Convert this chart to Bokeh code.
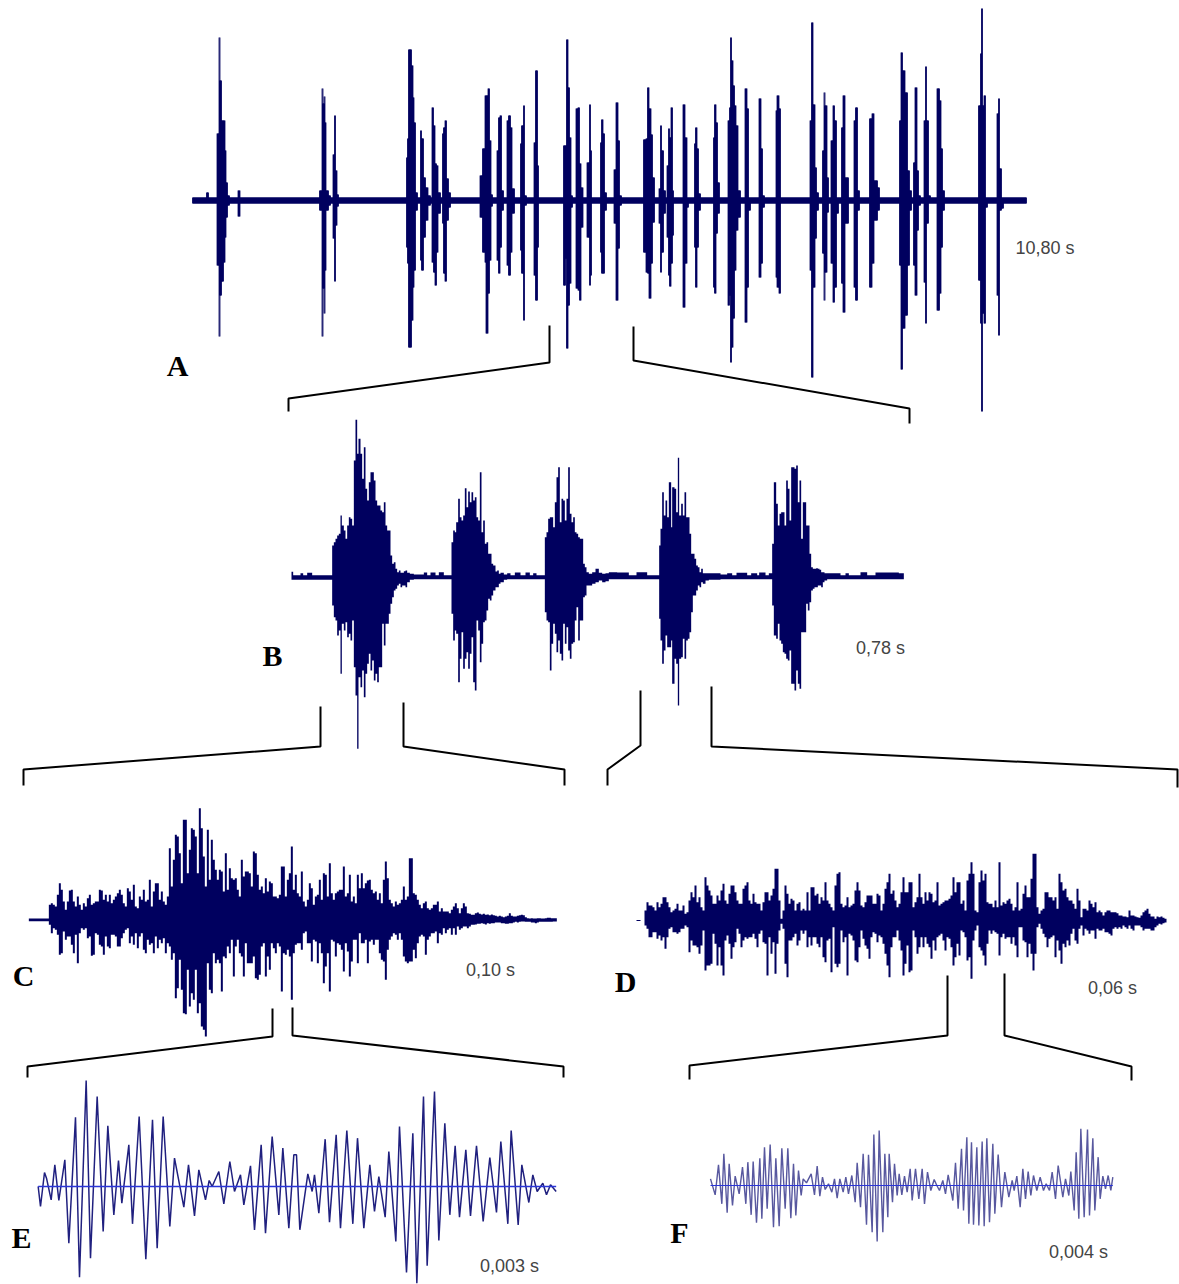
from bokeh.plotting import figure
from bokeh.models import Range1d
from bokeh.embed import file_html
from bokeh.resources import INLINE

# ---------- Panel A (10,80 s): amplitude envelope, columns start at A_x ----------
A_x = [0,14,16,
 24.5,26.5,27.5,29,31,32.5,33.5,35,37, 45.5,47.5,
 127,129.5,130.5,131.5,132.5,133.5,136,138, 140.5,142,143,144.5,146,
 214,215,216,219,220.5,221.5,223,225, 228,229,231,233,235.5,238,
 239.5,241,242.5,244,245.5,248, 250,251,252.5,254,256,258,
 287.5,290,292.5,293.5,295.5,297,298.5,300, 304.5,306,307.5,309,311,
 314.5,316,318,319.5,322, 328,329,331,332,334, 341.5,343,345,346,
 371,373,374,375.5,377,378.5,380, 383.5,385.5,387,388.5,390.5,
 394.5,397,398,399, 408,409,410.5,412,414, 421.5,423.5,425.5,427,429,
 451,453.5,455,456.5,458.5,460,462, 466.5,468,469,471,473,
 474.5,476,477,478.5,480,481, 490.5,492.5,494.5,496, 502,503,504.5,506,508,
 521,522,523.5,525,527, 535.5,537,538,539,540.5,542,543.5,545.5,548,
 552.5,554.5,556,558, 566.5,568.5,570,572, 583.5,584.5,586.5,588,
 617.5,619,620.5,622.5,624,626, 630,631.5,632.5,634.5,636,
 638.5,640.5,642,644,646, 649,650.5,652.5,656, 661.5,663,665,667,
 677,679.5,681.5,685,687, 707,708.5,710,712.5,715,717,719,
 721,722.5,724.5,726,728, 731.5,733,734,736,738, 744.5,747,748.5,750,752,
 786,788,789,790,791.5,793,795, 804.5,806,807,809,811, 834]
A_up = [3,8,3,
 67,163,120,80,80,50,18,5,3, 10,3,
 10,112,97,104,78,10,5,3, 46,85,30,6,3,
 43,62,151,135,103,78,8,3, 70,62,23,13,5,3,
 93,75,37,35,8,3, 67,73,80,22,8,3,
 25,52,105,105,112,60,6,3, 50,83,85,10,3,
 80,85,73,12,3, 57,75,95,5,3, 58,130,35,3,
 55,55,161,113,63,5,3, 92,93,37,13,3,
 38,96,50,3, 58,81,67,8,3, 31,98,60,5,3,
 61,62,113,92,66,23,3, 12,75,50,10,3,
 35,72,63,93,10,3, 96,63,3,3, 57,73,52,7,3,
 63,96,78,18,3, 80,93,163,140,115,95,75,10,3,
 112,92,3,3, 102,52,5,3, 90,105,92,3,
 80,178,96,33,8,3, 50,108,95,23,3,
 60,95,80,3,3, 73,105,23,3, 80,93,10,3,
 82,87,20,13,3, 80,148,130,108,30,10,3,
 38,113,30,5,3, 80,134,80,5,3, 112,100,52,10,3,
 95,147,192,95,105,3,3, 87,102,32,3,3, 3]
A_dn = [3,3,3,
 65,136,95,81,62,37,17,5,3, 16,3,
 10,136,88,113,70,10,5,3, 38,81,25,6,3,
 47,63,147,120,87,70,10,3, 60,70,37,20,5,3,
 62,72,85,52,13,3, 23,73,81,20,7,3,
 17,52,62,133,93,60,6,3, 60,73,47,10,3,
 65,75,52,13,3, 50,73,120,5,3, 75,100,47,3,
 85,58,148,105,83,7,3, 88,90,100,27,3,
 37,85,75,3, 52,73,73,10,3, 23,100,48,5,3,
 52,72,73,98,63,22,3, 23,72,52,13,3,
 37,75,86,63,35,3, 107,63,7,3, 47,87,47,10,3,
 87,93,33,13,3, 105,95,162,147,118,70,30,17,3,
 122,87,10,3, 77,63,7,3, 77,87,93,3,
 70,177,87,38,10,3, 53,100,72,12,3,
 63,102,87,13,3, 83,112,23,3, 87,100,10,3,
 87,63,20,10,3, 65,169,128,115,65,10,3,
 65,95,30,5,3, 82,123,23,3,3, 110,93,47,10,3,
 80,123,211,113,123,7,3, 95,135,10,8,3, 3]

# ---------- Panel B (0,78 s) ----------
B_x = [33,38,60,68,80,95,
 155,160,165,170,175,180,184,190,195,200,205,210,215,220,225,230,234,240,245,250,255,260,265,270,
 275,280,285,290,295,300,305,310,315,320,325,330,335,340,345,350,355,360,365,370,375,380,388,
 400,430,440,450,465,475,490,
 513,518,523,527,533,538,543,548,553,558,563,568,573,578,583,588,593,598,603,608,613,618,623,628,633,638,645,650,655,660,
 670,680,690,703,720,735,748,758,768,
 793,798,803,808,813,818,823,828,833,838,843,848,853,858,863,868,873,878,883,888,893,898,903,908,913,918,925,935,945,955,965,975,985,
 1010,1045,1068,1100,
 1136,1140,1145,1150,1155,1160,1165,1172,1175,1182,1187,1192,1196,1202,1207,1212,1217,1222,1227,1232,1237,1242,1247,1252,1257,1262,1267,1275,
 1285,1320,1340,1355,1368,1400,1412,1430,1436,1455,1465,
 1475,1480,1487,1492,1497,1502,1507,1512,1517,1522,1527,1532,1537,1542,1547,1552,1557,1562,1567,1572,1577,1582,1587,1592,1597,1602,1607,1612,1617,1622,1627,1632,
 1640,1680,1695,1705,1720,1740,1760,1785,1855,1865,1870]
B_up = [16,6,12,6,13,6,
 95,105,115,125,130,185,155,140,115,155,180,175,155,350,472,370,415,370,295,390,265,230,285,315,
 315,290,230,215,215,200,195,225,155,140,140,65,40,45,25,15,20,13,13,18,20,13,10,
 8,14,6,14,6,15,6,
 105,140,135,165,235,180,170,185,267,210,257,225,255,230,240,180,170,315,135,170,100,105,70,70,40,35,17,20,10,13,
 8,12,6,14,6,14,6,12,6,
 120,135,175,180,180,150,225,300,330,165,235,230,170,235,330,190,165,180,135,130,120,115,115,40,30,15,10,15,25,13,10,12,15,
 14,6,15,6,
 95,145,255,185,230,180,285,150,270,265,195,358,185,220,185,255,180,180,130,70,70,55,35,30,15,25,12,12,
 12,8,12,6,13,6,12,6,14,6,12,
 100,285,220,155,190,195,195,155,290,265,170,330,330,325,335,225,290,115,225,225,155,155,70,30,25,25,27,25,22,15,15,12,
 12,6,12,6,6,15,6,14,12,12,6]
B_dn = [8,8,8,8,8,8,
 85,120,130,175,160,290,140,160,135,180,170,190,130,270,355,515,300,330,280,360,290,260,230,280,
 250,310,290,315,270,270,140,205,140,140,110,80,60,40,35,25,20,30,25,25,30,15,8,
 6,6,6,6,6,6,6,
 110,190,160,170,315,245,165,275,245,225,275,230,180,315,340,130,160,255,200,135,130,100,65,70,55,40,30,30,20,15,
 8,6,6,6,6,6,6,6,6,
 105,130,135,280,200,140,170,225,190,230,250,140,200,150,220,245,200,195,130,90,190,130,130,60,55,25,25,20,15,10,15,12,6,
 6,6,6,6,
 125,190,260,220,175,210,210,190,320,245,260,385,245,240,185,245,190,185,165,105,55,55,40,25,30,15,20,10,
 8,6,6,6,6,6,6,6,6,6,6,
 85,175,185,140,190,200,225,230,245,250,220,320,320,340,280,320,335,165,165,165,80,100,75,40,35,30,30,25,25,30,15,10,
 6,6,6,6,6,6,6,6,6,6,6]

# ---------- Panel C (0,10 s): envelope on a regular column grid ----------
C_up = [4,4,4,4,4,4,4,4,4,4,
 45,50,45,40,75,110,90,55,30,55,88,90,55,40,70,45,30,50,40,65,75,45,50,55,55,90,88,60,75,55,75,50,60,70,80,90,75,50,40,95,
 85,60,105,40,35,70,60,90,55,60,120,40,85,110,110,60,85,55,45,70,215,100,180,255,250,200,110,300,300,140,210,275,270,250,140,335,275,190,100,270,
 120,240,180,150,120,150,145,85,200,90,155,125,120,125,90,70,180,130,145,145,140,100,205,200,135,90,100,80,125,85,115,110,70,70,65,75,160,160,70,120,
 140,220,90,135,80,70,
 145,55,40,60,110,95,45,70,75,120,60,140,135,70,170,80,60,80,85,90,90,160,70,80,135,55,70,50,135,95,140,95,110,118,120,90,80,85,60,80,50,120,175,125,60,50,40,55,45,50,
 60,100,60,70,185,185,80,75,60,45,35,50,55,35,30,35,45,45,55,25,35,25,25,25,20,30,40,50,35,20,35,50,40,20,18,15,15,20,22,18,
 16,18,15,16,14,16,14,12,10,12,10,8,10,12,20,12,10,10,12,14,15,14,8,5,4,5,4,4,5,5,4,4,5,6,6,5,5,5,6]
C_dn = [4,4,4,4,4,4,4,4,4,4,
 15,40,25,30,45,105,100,35,60,50,50,75,100,45,130,40,25,30,25,55,50,108,105,40,45,75,80,105,50,80,85,45,45,50,80,80,55,40,30,25,
 70,50,75,40,85,50,40,90,100,60,75,70,100,50,85,60,70,55,100,70,80,120,100,235,205,120,210,280,283,150,260,220,240,150,280,250,320,330,350,130,
 210,220,100,130,120,130,215,110,115,80,100,60,170,80,60,100,110,170,70,130,130,130,110,175,180,165,80,70,170,110,150,70,85,100,70,80,215,100,105,90,
 110,240,100,75,70,70,
 90,40,35,70,70,125,60,65,130,70,100,190,140,100,215,60,65,110,70,75,90,155,70,95,170,125,60,60,130,40,70,70,60,130,65,60,75,60,60,100,120,125,180,90,60,50,40,45,60,40,
 60,110,125,130,125,125,90,115,70,50,45,50,105,60,50,40,40,35,70,40,45,25,40,30,25,45,25,45,20,30,25,20,20,25,20,15,15,14,12,12,
 10,12,14,10,12,10,10,8,8,8,10,10,12,12,10,10,8,6,8,6,5,5,6,6,6,8,8,10,8,6,6,6,6,6,6,6,5,5,4]

# ---------- Panel D (0,06 s) ----------
D_up = [30,55,45,45,40,30,55,40,50,70,70,55,40,25,30,35,50,30,30,45,20,25,60,85,70,105,55,70,40,30,
 130,105,90,75,50,50,75,60,90,110,60,50,80,105,105,85,60,50,50,95,105,115,60,50,80,55,50,50,30,55,
 85,85,60,75,95,155,155,60,5,30,105,80,50,65,60,30,50,55,30,35,30,85,30,100,100,75,80,50,70,60,
 115,60,50,40,30,105,140,145,50,40,45,70,40,45,50,90,115,90,45,40,55,75,75,75,50,50,80,75,30,50,
 95,115,140,80,90,60,40,50,
 85,130,85,85,115,115,40,55,70,140,70,50,85,60,85,80,55,60,115,45,50,55,60,60,65,75,130,85,115,115,
 50,60,30,120,140,175,140,30,25,115,150,120,140,55,50,50,40,60,40,175,45,55,50,60,65,50,30,40,115,30,
 35,80,105,70,70,125,200,200,40,20,30,35,85,85,70,70,60,70,35,140,115,90,95,70,60,60,50,35,95,60,
 10,35,35,30,60,50,40,55,25,30,25,15,25,30,30,25,25,25,22,15,15,12,12,10,30,15,15,12,10,8,
 15,25,30,35,20,12,12,5,12,10,12,8,5,4]
D_dn = [15,25,50,50,35,35,55,45,60,50,85,50,25,20,35,35,40,35,25,25,15,20,95,60,75,75,80,100,75,30,
 150,135,135,130,40,70,135,80,135,165,60,45,70,115,80,65,25,40,80,60,50,55,50,50,40,55,80,40,30,65,
 70,165,50,100,65,160,70,30,10,25,130,170,60,60,50,40,75,60,30,40,30,80,50,75,50,50,70,80,50,110,
 125,60,55,155,20,130,140,130,30,65,50,165,40,45,60,120,125,80,30,55,75,85,115,50,35,40,65,45,50,70,
 100,135,170,80,50,50,30,60,
 90,165,130,75,155,150,30,50,100,80,50,80,50,70,80,115,60,90,50,45,40,60,90,50,55,80,135,110,70,105,
 30,35,50,120,110,175,60,30,15,80,90,105,135,70,30,40,30,35,40,105,50,40,55,50,50,70,50,75,110,20,
 20,60,65,110,70,100,150,100,20,10,25,40,50,80,55,50,45,110,60,90,130,70,80,60,75,40,25,60,70,25,
 15,45,25,30,40,30,30,55,25,30,30,25,35,35,40,45,25,20,25,20,25,15,20,25,15,25,30,15,15,15,
 20,30,25,25,25,30,30,20,15,10,12,8,6,4]

# ---------- Panel E (0,003 s): waveform extremes ----------
E_x = [23,30,42,48,62,73,85,103,115,135,147,167,180,200,218,232,250,264,274,295,306,326,346,366,380,398,418,432,460,474,
 492,505,525,536,545,565,580,598,612,630,640,660,672,692,705,725,745,757,775,790,798,
 808,832,845,852,865,884,897,917,930,949,967,981,1000,1018,1032,1045,1064,1075,1096,1107,1128,1147,1159,1179,1190,1212,1225,1243,1258,
 1274,1287,1306,1320,1338,1358,1378,1398,1411,1432,1442,1463,1474,1495,1507,1520,1537,1548,1560,1577]
E_y = [0,-60,42,25,-40,65,-42,80,-170,208,-272,318,-215,270,-135,182,-85,78,-50,125,-112,210,-218,200,-185,210,-120,85,-62,65,
 -88,50,-40,18,0,45,-52,75,-15,35,-55,62,-130,125,-140,150,-85,115,-125,95,95,
 -130,38,-15,35,-80,142,-107,155,-125,168,-112,145,-125,65,-75,30,-92,105,-165,180,-258,160,-290,270,-238,285,-162,190,-85,
 122,-92,110,-88,122,-105,87,-78,135,-112,168,-115,65,-48,35,-15,10,-25,5,-15]

# ---------- Panel F (0,004 s) ----------
F_x = [30,44,54,64,70,80,86,96,104,116,126,136,142,152,158,168,178,184,192,200,209,219,226,236,244,254,262,271,279,286,
 294,302,308,318,332,342,350,358,366,374,384,394,402,410,418,428,436,444,454,464,470,480,488,498,504,515,520,530,536,547,
 553,562,566,576,582,590,596,604,612,620,
 629,635,645,655,665,672,681,691,701,709,717,727,735,743,757,765,773,783,789,799,805,813,819,829,835,845,851,859,867,877,
 883,893,903,913,925,935,941,949,959,967,975,983,991,999,1009,1019,1029,1037,1047,1055,1065,1073,1087,1095,1105,1111,1121,1127,1135,1141,
 1151,1161,1167,1177,1183,1193,1199,1207,1215,1223,1231,1237]
F_y = [20,-28,62,-55,95,-82,65,-60,28,-25,55,-55,70,-88,72,-112,82,-100,115,-70,123,-125,82,-122,112,-70,112,-98,65,-90,
 45,-30,20,8,35,-28,58,-32,25,-12,5,-20,20,-38,20,-20,25,-25,30,-50,68,-65,95,-118,92,-140,153,-168,165,-140,
 95,-95,95,-50,65,-30,35,-28,28,-20,
 50,-45,50,-40,50,-55,40,-15,18,0,-15,15,-25,32,-45,68,-70,110,-75,145,-115,130,-118,115,-120,132,-122,142,-110,125,
 -85,93,-65,40,-35,15,-15,28,-65,50,-40,42,-30,30,-15,25,-15,5,-15,40,-40,60,-35,20,-30,42,-75,100,-100,170,
 -95,168,-90,142,-75,85,-40,28,-10,30,-15,25]

# ---------- Annotations ----------
LETTERS = ["A", "B", "C", "D", "E", "F"]
LETTER_X = [177, 272, 23, 625, 21, 679]
LETTER_Y = [365, 655, 975, 981, 1237, 1232]
DURATIONS = ["10,80 s", "0,78 s", "0,10 s", "0,06 s", "0,003 s", "0,004 s"]
DURATION_X = [1044.5, 880, 490, 1112, 509, 1078]
DURATION_Y = [247, 647, 969, 987, 1265, 1251]
BRACKET_X = [[549,549,288,288],[633,633,909,909],[320,320,23,23],[403,403,564,564],[640,640,607,607],
             [711,711,1177,1177],[272,272,27,27],[292,292,563,563],[947,947,689,689],[1004,1004,1131,1131]]
BRACKET_Y = [[325,362,398,411],[326,360,408,423],[706,746,769,785],[702,746,769,785],[690,745,769,785],
             [686,746,769,787],[1008,1036,1066,1077],[1007,1035,1066,1077],[975,1035,1065,1079],[973,1035,1066,1080]]

# ---------- Layout and style ----------
W, H = 1179, 1284
LEFT, TOP = 0, 0
NAVY = "#00005f"
LINE = "#20207f"
BLUE = "#2a35d8"
GREY = "#444444"

p = figure(width=W, height=H, output_backend="svg", toolbar_location=None,
           x_range=Range1d(LEFT, LEFT + W), y_range=Range1d(TOP + H, TOP),
           min_border=0, outline_line_color=None)
p.xaxis.visible = False
p.yaxis.visible = False
p.grid.visible = False
p.background_fill_color = "white"


def panel(name, x0, y0, scale):
    """A panel's own scales: `scale` data units per screen pixel, origin at (x0, y0)."""
    p.extra_x_ranges[name] = Range1d((LEFT - x0) * scale, (LEFT + W - x0) * scale)
    p.extra_y_ranges[name] = Range1d((y0 - TOP - H) * scale, (y0 - TOP) * scale)
    return dict(x_range_name=name, y_range_name=name)


def envelope(name, x, up, dn):
    n = min(len(x), len(up), len(dn))
    p.varea_step(x=x[:n], y1=up[:n], y2=[-d for d in dn[:n]], step_mode="after",
                 fill_color=NAVY, **panel_args[name])


panel_args = {
    "A": panel("A", 192, 200, 1),
    "B": panel("B", 280, 576.7, 3),
    "C": panel("C", 20, 919.3, 3),
    "D": panel("D", 630, 920, 3),
    "E": panel("E", 30, 1186, 3),
    "F": panel("F", 700, 1185, 3),
}

# panel A's columns are blurred in the source: draw them a little wider
envelope("A", [t - 0.4 for t in A_x], A_up, A_dn)
envelope("A", [t + 0.4 for t in A_x], A_up, A_dn)
envelope("B", B_x, B_up, B_dn)
C_x = [25 + 6 * i for i in range(min(len(C_up), len(C_dn)))]
envelope("C", C_x, C_up, C_dn)
D_x = [42 + 6 * i for i in range(min(len(D_up), len(D_dn)))]
envelope("D", D_x, D_up, D_dn)
p.line([18, 30], [0, 0], line_color=NAVY, line_width=1, line_dash="5 3", **panel_args["D"])

ne = min(len(E_x), len(E_y))
p.line(E_x[:ne], E_y[:ne], line_color=LINE, line_width=1.5, **panel_args["E"])
p.line([E_x[0], E_x[ne - 1]], [0, 0], line_color=BLUE, line_width=1.3, **panel_args["E"])
nf = min(len(F_x), len(F_y))
p.line(F_x[:nf], F_y[:nf], line_color=LINE, line_width=1.4, line_alpha=0.75, **panel_args["F"])
p.line([F_x[0], F_x[nf - 1]], [0, 0], line_color=BLUE, line_width=1.2, **panel_args["F"])

p.multi_line(BRACKET_X, BRACKET_Y, line_color="black", line_width=2)
p.text(LETTER_X, LETTER_Y, text=LETTERS, text_font={"value": "Liberation Serif"},
       text_font_style="bold", text_font_size="30px", text_color="black",
       text_align="center", text_baseline="middle")
p.text(DURATION_X, DURATION_Y, text=DURATIONS, text_font={"value": "Liberation Sans"},
       text_font_size="18px", text_color=GREY, text_align="center", text_baseline="middle")

open("out.html", "w").write(file_html(p, INLINE))
